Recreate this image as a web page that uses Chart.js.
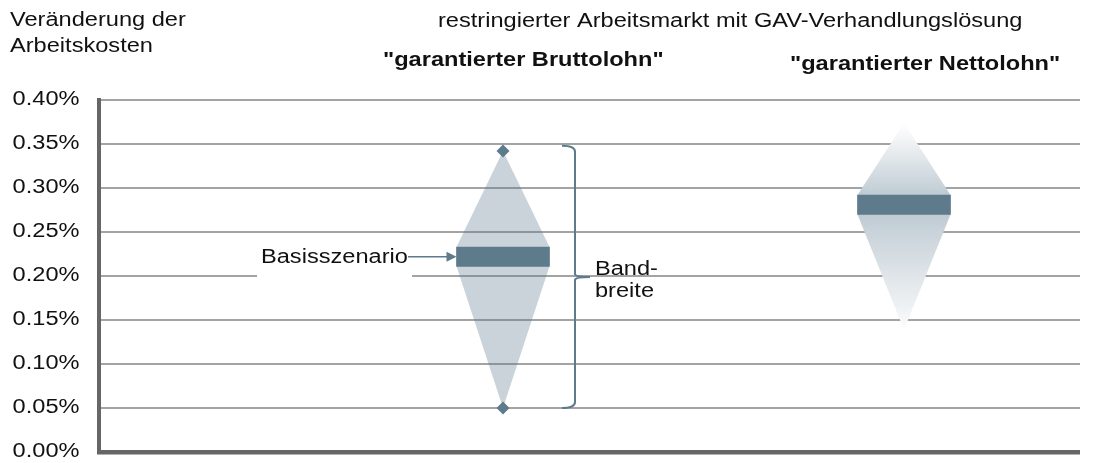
<!DOCTYPE html>
<html lang="de">
<head>
<meta charset="utf-8">
<script src="https://cdn.jsdelivr.net/npm/chart.js@4/dist/chart.umd.min.js"></script>
<style>
  html, body { margin: 0; padding: 0; background: #fff; }
  #wrap { position: relative; width: 1099px; height: 463px; }
</style>
</head>
<body>
<div id="wrap"><canvas id="bandChart"></canvas></div>
<script>
// Data (values in %)
const categories = ['"garantierter Bruttolohn"', '"garantierter Nettolohn"'];
const baseLow = [0.211, 0.270];   // Basisszenario bar, bottom
const baseHigh = [0.233, 0.292];  // Basisszenario bar, top
const rangeMin = [0.050, 0.139];  // lower end of the band
const rangeMax = [0.342, 0.374];  // upper end of the band
const tickValues = [0, 0.05, 0.10, 0.15, 0.20, 0.25, 0.30, 0.35, 0.40];
const yTitle = ["Veränderung der", "Arbeitskosten"];
const chartTitle = "restringierter Arbeitsmarkt mit GAV-Verhandlungslösung";

// Layout (x axis runs in pixel-like units across the plot)
const X_MAX = 981;
const catX = [404, 805];
const HALF_W = 46.5;
const BAR_W = 93;

// Styles
const DARK = "#5e7b8c";
const LIGHT = "rgba(94, 123, 140, 0.335)";
const FONT_FAMILY = '"Liberation Sans", Arial, sans-serif';
const FONT_SIZE = 19.5;
const TEXT_STRETCH = 1.21;
const TEXT_COLOR = "#111";

function drawText(ctx, str, x, y, opts = {}) {
  ctx.save();
  ctx.font = (opts.bold ? "bold " : "") + FONT_SIZE + "px " + FONT_FAMILY;
  ctx.fillStyle = TEXT_COLOR;
  ctx.textAlign = opts.align || "left";
  ctx.textBaseline = opts.baseline || "alphabetic";
  ctx.translate(x, y);
  ctx.scale(TEXT_STRETCH, 1);
  ctx.fillText(str, 0, 0);
  ctx.restore();
}

// fading fill of the Nettolohn band
function nettoGradient(c) {
  const chart = c.chart;
  if (!chart.chartArea) return "rgba(0,0,0,0)";
  const y = chart.scales.y;
  const top = y.getPixelForValue(rangeMax[1]);
  const bot = y.getPixelForValue(rangeMin[1]);
  const g = chart.ctx.createLinearGradient(0, top, 0, bot);
  const stops = [
    [rangeMax[1], "#ffffff"],
    [0.35, "#eef1f3"],
    [0.30, "#c6d1d8"],
    [baseHigh[1], "#bdcad3"],
    [baseLow[1], "#bfcbd4"],
    [0.25, "#c9d3da"],
    [0.20, "#dfe5e9"],
    [0.15, "#f5f7f8"],
    [rangeMin[1], "#ffffff"],
  ];
  stops.forEach(([v, col]) => {
    const t = (y.getPixelForValue(v) - top) / (bot - top);
    g.addColorStop(Math.min(1, Math.max(0, t)), col);
  });
  return g;
}

function edge(i, yMid, yEnd) {
  return [
    { x: catX[i] - HALF_W, y: yMid },
    { x: catX[i], y: yEnd },
    { x: catX[i] + HALF_W, y: yMid },
  ];
}

const overlayPlugin = {
  id: "overlay",
  afterDraw(chart) {
    const ctx = chart.ctx;
    const xs = chart.scales.x;
    const ys = chart.scales.y;

    // y tick labels
    ys.ticks.forEach((t) => {
      drawText(ctx, t.value.toFixed(2) + "%", 79.5, ys.getPixelForValue(t.value), {
        align: "right",
        baseline: "middle",
      });
    });

    // titles
    drawText(ctx, yTitle[0], 10, 26);
    drawText(ctx, yTitle[1], 10, 52);
    drawText(ctx, chartTitle, 438, 27);
    drawText(ctx, categories[0], 383, 66, { bold: true });
    drawText(ctx, categories[1], 790, 70, { bold: true });

    // Basisszenario label with arrow
    const c1 = xs.getPixelForValue(catX[0]);
    const yBase = ys.getPixelForValue((baseLow[0] + baseHigh[0]) / 2);
    ctx.save();
    ctx.fillStyle = "#fff";
    ctx.fillRect(257, yBase - 18, 155, 42);
    ctx.restore();
    drawText(ctx, "Basisszenario", 261, yBase + 6);
    const tip = c1 - BAR_W / 2;
    ctx.save();
    ctx.strokeStyle = DARK;
    ctx.fillStyle = DARK;
    ctx.lineWidth = 1.5;
    ctx.beginPath();
    ctx.moveTo(408, yBase);
    ctx.lineTo(tip - 8, yBase);
    ctx.stroke();
    ctx.beginPath();
    ctx.moveTo(tip, yBase);
    ctx.lineTo(tip - 10, yBase - 5);
    ctx.lineTo(tip - 10, yBase + 5);
    ctx.closePath();
    ctx.fill();

    // bracket "Bandbreite"
    const bx = c1 + 72;
    const yTop = ys.getPixelForValue(0.348);
    const yBot = ys.getPixelForValue(rangeMin[0]);
    const yMid = (yTop + yBot) / 2;
    ctx.lineWidth = 2;
    ctx.beginPath();
    ctx.moveTo(bx - 13, yTop);
    ctx.quadraticCurveTo(bx, yTop, bx, yTop + 6);
    ctx.lineTo(bx, yMid - 3);
    ctx.quadraticCurveTo(bx, yMid, bx + 15, yMid);
    ctx.moveTo(bx + 15, yMid);
    ctx.quadraticCurveTo(bx, yMid, bx, yMid + 3);
    ctx.lineTo(bx, yBot - 6);
    ctx.quadraticCurveTo(bx, yBot, bx - 13, yBot);
    ctx.stroke();
    ctx.restore();
    drawText(ctx, "Band-", bx + 20, yMid - 2);
    drawText(ctx, "breite", bx + 20, yMid + 20);
  },
};

const ctx = document.getElementById("bandChart").getContext("2d");
new Chart(ctx, {
  type: "bar",
  data: {
    datasets: [
      {
        type: "line",
        data: edge(0, baseHigh[0], rangeMax[0]),
        borderWidth: 0,
        pointRadius: 0,
        fill: false,
        order: 3,
      },
      {
        type: "line",
        data: edge(0, baseLow[0], rangeMin[0]),
        borderWidth: 0,
        pointRadius: 0,
        fill: "-1",
        backgroundColor: LIGHT,
        order: 3,
      },
      {
        type: "line",
        data: edge(1, baseHigh[1], rangeMax[1]),
        borderWidth: 0,
        pointRadius: 0,
        fill: false,
        order: 3,
      },
      {
        type: "line",
        data: edge(1, baseLow[1], rangeMin[1]),
        borderWidth: 0,
        pointRadius: 0,
        fill: "-1",
        backgroundColor: nettoGradient,
        order: 3,
      },
      {
        type: "bar",
        data: categories.map((c, i) => ({ x: catX[i], y: [baseLow[i], baseHigh[i]] })),
        backgroundColor: DARK,
        barThickness: BAR_W,
        borderWidth: 0,
        order: 2,
      },
      {
        type: "line",
        data: [
          { x: catX[0], y: rangeMax[0] },
          { x: catX[0], y: rangeMin[0] },
        ],
        showLine: false,
        pointStyle: "rectRot",
        pointRadius: 6.5,
        pointBackgroundColor: DARK,
        pointBorderWidth: 0,
        order: 1,
      },
    ],
  },
  options: {
    responsive: true,
    maintainAspectRatio: false,
    animation: false,
    events: [],
    layout: { padding: { top: 100, right: 19, bottom: 11, left: 0 } },
    plugins: {
      legend: { display: false },
      tooltip: { enabled: false },
      title: { display: false },
    },
    scales: {
      x: {
        type: "linear",
        min: 0,
        max: X_MAX,
        display: false,
        offset: false,
      },
      y: {
        min: 0,
        max: 0.4,
        afterBuildTicks: (s) => {
          s.ticks = tickValues.map((v) => ({ value: v }));
        },
        afterFit: (s) => {
          s.width = 99;
        },
        ticks: { display: false },
        grid: {
          drawTicks: false,
          color: (c) => (c.tick && c.tick.value === 0 ? "#666" : "#a3a3a3"),
          lineWidth: (c) => (c.tick && c.tick.value === 0 ? 4.5 : 2),
        },
        border: { display: true, color: "#666", width: 4 },
      },
    },
  },
  plugins: [overlayPlugin],
});
</script>
</body>
</html>
